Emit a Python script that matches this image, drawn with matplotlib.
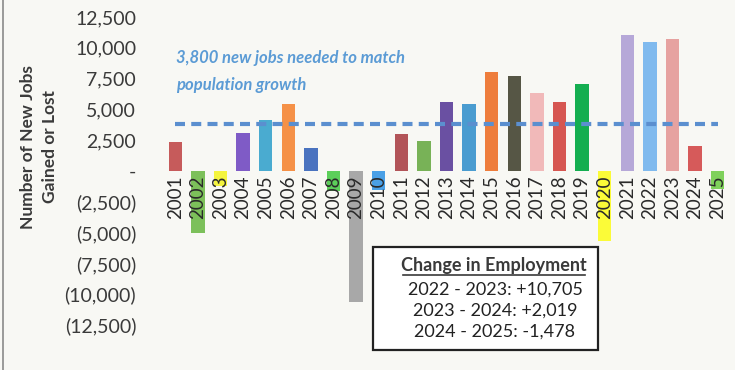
import matplotlib
matplotlib.use("Agg")
import matplotlib.pyplot as plt
from matplotlib.patches import Rectangle
from matplotlib.lines import Line2D
from matplotlib.ticker import FuncFormatter

plt.rcParams['font.family'] = ['Lato', 'DejaVu Sans']

years = [str(y) for y in range(2001, 2026)]
jobs = [2330, -5000, -1250, 3090, 4120, 5460, 1870, -1650, -10600, -1550,
        2980, 2410, 5630, 5440, 8040, 7740, 6360, 5580, 7080, -5720,
        11020, 10475, 10705, 2019, -1478]
bar_colors = ['#c65b5b', '#7cc05a', '#f4f43e', '#7f5bc6', '#4aabd0', '#f59147',
              '#4a73bf', '#5ccf5a', '#a8a8a8', '#4aa0e6',
              '#b25458', '#78b257', '#6a50a2', '#4a9cd0', '#ee7d3c', '#565645',
              '#f1b9b9', '#d65651', '#14ae50', '#fbfb38',
              '#b6a8d8', '#80baee', '#e6a2a0', '#d65a5a', '#7fd15b']
target = 3800
changes = ['2022 - 2023: +10,705', '2023 - 2024: +2,019', '2024 - 2025: -1,478']

W, H = 735, 370
bg = '#f8f8f4'
txt = '#3a3a3a'


def px(x, y):
    # pixel position (from top-left) to figure fraction
    return x / W, 1 - y / H


def fmt(v, pos):
    if v == 0:
        return '-'
    if v < 0:
        return '({:,.0f})'.format(-v)
    return '{:,.0f}'.format(v)


fig = plt.figure(figsize=(7.35, 3.7), dpi=100, facecolor=bg)
ax = fig.add_axes([164 / W, 1 - 325 / H, (729 - 164) / W, (325 - 17) / H])
ax.set_facecolor(bg)

xs = list(range(len(years)))
ax.bar(xs, jobs, width=0.59, color=bar_colors, zorder=1)
ax.plot([xs[0], xs[-1]], [target, target], color='#5b8fcf', lw=3,
        dashes=(2.4, 1.5), zorder=3)

ax.text(0.05, 9150, '3,800 new jobs needed to match', color='#5b9bd5',
        fontsize=12, fontweight='bold', fontstyle='italic', va='center')
ax.text(0.05, 6950, 'population growth', color='#5b9bd5',
        fontsize=12, fontweight='bold', fontstyle='italic', va='center')

ax.set_xlim(-0.5, len(years) - 0.5)
ax.set_ylim(-12500, 12500)
ax.spines['bottom'].set_position(('data', 0))
for s in ax.spines.values():
    s.set_visible(False)
ax.set_yticks(range(-12500, 12501, 2500))
ax.yaxis.set_major_formatter(FuncFormatter(fmt))
ax.set_xticks(xs)
ax.set_xticklabels(years)
ax.tick_params(axis='x', length=0, pad=3, labelsize=13.5, labelcolor='#2a2a2a',
               labelrotation=90)
ax.tick_params(axis='y', length=0, pad=20, labelsize=14, labelcolor=txt)

fig.text(*px(39, 147), 'Number of New Jobs\nGained or Lost', rotation=90,
         ha='center', va='center', multialignment='center',
         fontsize=12.5, fontweight='bold', color=txt, linespacing=1.5)

# summary box
x0, y0 = px(373, 350)
x1, y1 = px(598, 247)
fig.patches.append(Rectangle((x0, y0), x1 - x0, y1 - y0, transform=fig.transFigure,
                             facecolor='white', edgecolor='#222222', lw=1.6, zorder=5))
fig.text(*px(494, 265), 'Change in Employment', ha='center', va='center',
         fontsize=13, fontweight='bold', color=txt, zorder=6)
ux0, uy = px(403, 275)
ux1, _ = px(585, 275)
fig.lines.append(Line2D([ux0, ux1], [uy, uy], transform=fig.transFigure,
                        color=txt, lw=1.2, zorder=6))
for line, yy in zip(changes, [290, 311, 332]):
    fig.text(*px(495, yy), line, ha='center', va='center', fontsize=13,
             color='#222222', zorder=6)

# frame edge on the left
fig.lines.append(Line2D([2.5 / W, 2.5 / W], [0, 1], transform=fig.transFigure,
                        color='#8a8a8a', lw=1.2))

fig.savefig('out.png', dpi=100, facecolor=bg)
